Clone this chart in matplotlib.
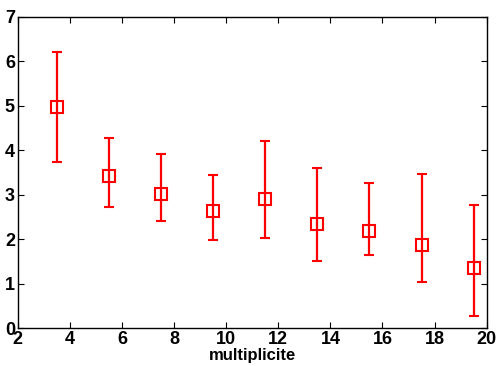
import matplotlib
matplotlib.use('Agg')
import matplotlib.pyplot as plt

plt.rcParams['font.family'] = ['Liberation Sans', 'DejaVu Sans']
plt.rcParams['font.weight'] = 'bold'

# data
multiplicite = [3.5, 5.5, 7.5, 9.5, 11.5, 13.5, 15.5, 17.5, 19.5]
valeur = [4.98, 3.43, 3.01, 2.63, 2.90, 2.34, 2.19, 1.87, 1.35]
haut = [6.21, 4.27, 3.91, 3.45, 4.20, 3.61, 3.27, 3.47, 2.76]
bas = [3.73, 2.73, 2.41, 1.98, 2.03, 1.51, 1.64, 1.03, 0.28]

err_bas = [v - b for v, b in zip(valeur, bas)]
err_haut = [h - v for v, h in zip(valeur, haut)]

fig = plt.figure(figsize=(4.96, 3.66), dpi=100)
ax = fig.add_axes([0.0357, 0.103, 0.9456, 0.851])

ax.errorbar(multiplicite, valeur, yerr=[err_bas, err_haut], fmt='s',
            color='red', mfc='none', mec='red', ms=8.5, mew=1.5,
            elinewidth=1.6, capsize=3.5, capthick=1.6)

ax.set_xlim(2, 20)
ax.set_ylim(0, 7)
ax.set_xticks(range(2, 21, 2))
ax.set_yticks(range(0, 8))
ax.tick_params(direction='in', top=True, right=True, length=4,
               labelsize=13, pad=2)
for s in ax.spines.values():
    s.set_linewidth(1.0)
ax.set_xlabel('multiplicite', fontsize=12, fontweight='bold', labelpad=0)

fig.savefig('out.png', dpi=100)
